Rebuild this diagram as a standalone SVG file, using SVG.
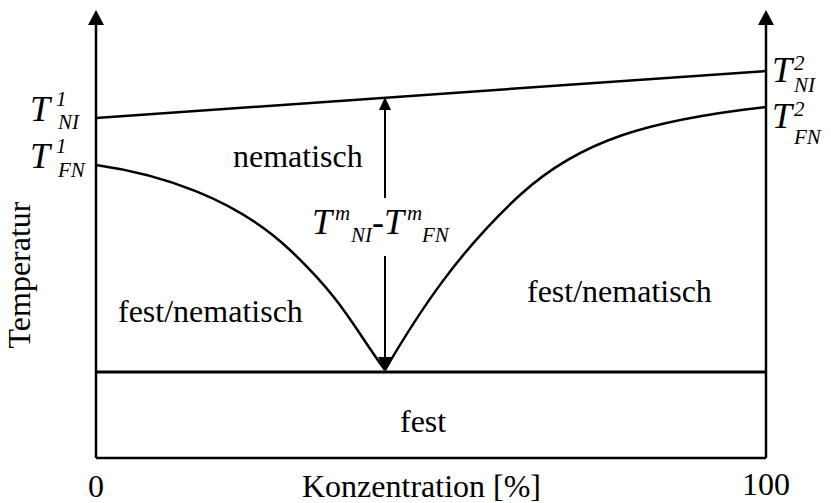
<svg xmlns="http://www.w3.org/2000/svg" width="831" height="503" viewBox="0 0 831 503">
<rect width="831" height="503" fill="#fff"/>
<g id="axes" fill="none" stroke="#000" stroke-width="2.5">
<line x1="96" y1="22" x2="96" y2="458"/>
<line x1="766" y1="22" x2="766" y2="458"/>
<polygon points="96,10 88,25 104,25" fill="#000" stroke="none"/>
<polygon points="766,10 758,25 774,25" fill="#000" stroke="none"/>
</g>
<g id="fest">
<line x1="96" y1="372" x2="766" y2="372" stroke="#000" stroke-width="3"/>
<line x1="96" y1="458" x2="766" y2="458" stroke="#000" stroke-width="2.5"/>
<text style="font-family:'Liberation Serif',serif;font-size:32px" x="400" y="432">fest</text>
</g>
<g id="connectors" fill="none" stroke="#000" stroke-width="2.5">
<line id="ni-line" x1="96" y1="118" x2="766" y2="71"/>
<path id="fn-left" d="M96,165 C160,174 235,198 290,250 S355,330 385,370"/>
<path id="fn-right" d="M385,370 C420,310 460,250 520,195 S650,120 766,107"/>
<line x1="385" y1="108" x2="385" y2="198" stroke-width="2"/>
<line x1="385" y1="256" x2="385" y2="360" stroke-width="2"/>
<polygon points="385,97 379,110 391,110" fill="#000" stroke="none"/>
<polygon points="385,371 378,357 392,357" fill="#000" stroke="none"/>
</g>
<g id="region-nematisch"><text style="font-family:'Liberation Serif',serif;font-size:32px" x="233" y="167">nematisch</text></g>
<g id="region-fn-left"><text style="font-family:'Liberation Serif',serif;font-size:32px" x="118" y="322">fest/nematisch</text></g>
<g id="region-fn-right"><text style="font-family:'Liberation Serif',serif;font-size:32px" x="527" y="302">fest/nematisch</text></g>
<g id="label-T1NI">
<text style="font-family:'Liberation Serif',serif;font-style:italic;font-size:36px" x="30" y="121">T</text>
<text style="font-family:'Liberation Serif',serif;font-style:italic;font-size:21px" x="56" y="106">1</text>
<text style="font-family:'Liberation Serif',serif;font-style:italic;font-size:21px" x="58" y="129">NI</text>
</g>
<g id="label-T1FN">
<text style="font-family:'Liberation Serif',serif;font-style:italic;font-size:36px" x="30" y="168">T</text>
<text style="font-family:'Liberation Serif',serif;font-style:italic;font-size:21px" x="56" y="153">1</text>
<text style="font-family:'Liberation Serif',serif;font-style:italic;font-size:21px" x="58" y="177">FN</text>
</g>
<g id="label-T2NI">
<text style="font-family:'Liberation Serif',serif;font-style:italic;font-size:36px" x="772" y="82">T</text>
<text style="font-family:'Liberation Serif',serif;font-style:italic;font-size:21px" x="794" y="70">2</text>
<text style="font-family:'Liberation Serif',serif;font-style:italic;font-size:21px" x="794" y="92">NI</text>
</g>
<g id="label-T2FN">
<text style="font-family:'Liberation Serif',serif;font-style:italic;font-size:36px" x="772" y="128">T</text>
<text style="font-family:'Liberation Serif',serif;font-style:italic;font-size:21px" x="794" y="116">2</text>
<text style="font-family:'Liberation Serif',serif;font-style:italic;font-size:21px" x="794" y="144">FN</text>
</g>
<g id="label-Tm">
<text style="font-family:'Liberation Serif',serif;font-style:italic;font-size:36px" x="312" y="234">T</text>
<text style="font-family:'Liberation Serif',serif;font-style:italic;font-size:21px" x="335" y="220">m</text>
<text style="font-family:'Liberation Serif',serif;font-style:italic;font-size:21px" x="351" y="242">NI</text>
<text style="font-family:'Liberation Serif',serif;font-size:36px" x="372" y="234">-</text>
<text style="font-family:'Liberation Serif',serif;font-style:italic;font-size:36px" x="384" y="234">T</text>
<text style="font-family:'Liberation Serif',serif;font-style:italic;font-size:21px" x="407" y="220">m</text>
<text style="font-family:'Liberation Serif',serif;font-style:italic;font-size:21px" x="422" y="242">FN</text>
</g>
<g id="axis-labels">
<text style="font-family:'Liberation Serif',serif;font-size:32px" x="30" y="275" text-anchor="middle" transform="rotate(-90 30 275)">Temperatur</text>
<text style="font-family:'Liberation Serif',serif;font-size:32px" x="302" y="497">Konzentration [%]</text>
<text style="font-family:'Liberation Serif',serif;font-size:32px" x="88" y="497">0</text>
<text style="font-family:'Liberation Serif',serif;font-size:32px" x="742" y="495">100</text>
</g>
</svg>
